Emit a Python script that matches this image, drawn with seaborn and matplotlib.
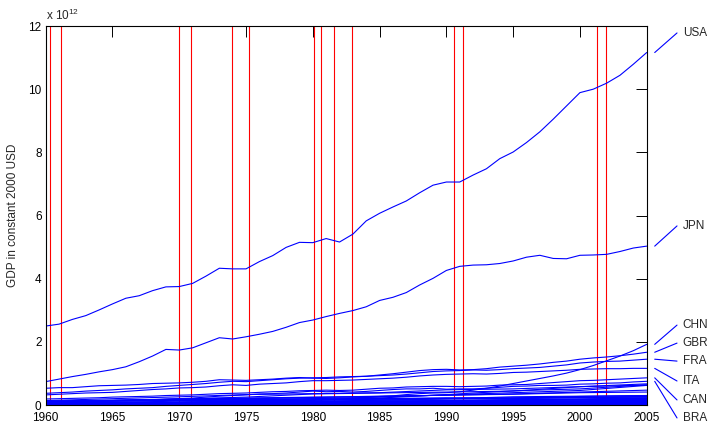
import matplotlib
matplotlib.use("Agg")
import matplotlib.pyplot as plt
import pandas as pd
import seaborn as sns

# ---------------- data (GDP, trillions of constant 2000 USD) ----------------
years = list(range(1960, 2006))
years5 = list(range(1960, 2006, 5))

usa = [2.50, 2.56, 2.71, 2.83, 3.01, 3.20, 3.38, 3.46, 3.62, 3.74,
       3.75, 3.85, 4.08, 4.33, 4.31, 4.31, 4.54, 4.73, 4.99, 5.15,
       5.14, 5.27, 5.16, 5.41, 5.83, 6.07, 6.27, 6.46, 6.72, 6.96,
       7.06, 7.06, 7.28, 7.48, 7.80, 8.01, 8.31, 8.65, 9.05, 9.47,
       9.89, 10.00, 10.19, 10.44, 10.79, 11.16]
jpn = [0.74, 0.82, 0.90, 0.97, 1.05, 1.12, 1.21, 1.37, 1.55, 1.76,
       1.74, 1.81, 1.97, 2.13, 2.09, 2.16, 2.24, 2.33, 2.46, 2.61,
       2.69, 2.80, 2.90, 2.99, 3.11, 3.31, 3.41, 3.56, 3.80, 4.01,
       4.26, 4.39, 4.43, 4.44, 4.48, 4.56, 4.68, 4.74, 4.64, 4.63,
       4.74, 4.75, 4.77, 4.86, 4.97, 5.03]
chn = [0.07, 0.05, 0.05, 0.05, 0.06, 0.07, 0.08, 0.07, 0.07, 0.08,
       0.09, 0.10, 0.10, 0.11, 0.11, 0.12, 0.12, 0.13, 0.14, 0.15,
       0.17, 0.17, 0.19, 0.21, 0.24, 0.27, 0.29, 0.33, 0.36, 0.38,
       0.39, 0.42, 0.47, 0.53, 0.60, 0.68, 0.76, 0.84, 0.92, 1.01,
       1.12, 1.25, 1.40, 1.55, 1.72, 1.92]
gbr = [0.53, 0.55, 0.55, 0.58, 0.61, 0.62, 0.63, 0.65, 0.68, 0.69,
       0.70, 0.72, 0.75, 0.80, 0.79, 0.78, 0.80, 0.82, 0.85, 0.87,
       0.85, 0.84, 0.86, 0.89, 0.91, 0.95, 0.99, 1.04, 1.09, 1.12,
       1.13, 1.11, 1.12, 1.15, 1.20, 1.23, 1.26, 1.30, 1.35, 1.39,
       1.45, 1.49, 1.52, 1.56, 1.61, 1.67]
fra = [0.37, 0.39, 0.41, 0.44, 0.46, 0.48, 0.51, 0.53, 0.55, 0.59,
       0.62, 0.65, 0.68, 0.72, 0.75, 0.74, 0.77, 0.80, 0.83, 0.85,
       0.86, 0.87, 0.89, 0.90, 0.91, 0.93, 0.95, 0.98, 1.02, 1.06,
       1.08, 1.09, 1.11, 1.10, 1.12, 1.15, 1.17, 1.19, 1.23, 1.27,
       1.33, 1.36, 1.38, 1.39, 1.42, 1.45]
ita = [0.32, 0.34, 0.36, 0.38, 0.39, 0.40, 0.43, 0.46, 0.49, 0.51,
       0.54, 0.55, 0.57, 0.61, 0.64, 0.62, 0.66, 0.68, 0.70, 0.74,
       0.77, 0.77, 0.78, 0.79, 0.81, 0.83, 0.85, 0.88, 0.92, 0.95,
       0.97, 0.98, 0.99, 0.98, 1.00, 1.03, 1.04, 1.06, 1.08, 1.10,
       1.13, 1.14, 1.15, 1.15, 1.16, 1.16]
can = [0.19, 0.20, 0.21, 0.22, 0.23, 0.25, 0.26, 0.27, 0.28, 0.30,
       0.31, 0.32, 0.34, 0.36, 0.37, 0.38, 0.40, 0.42, 0.43, 0.45,
       0.46, 0.47, 0.46, 0.47, 0.50, 0.53, 0.54, 0.57, 0.58, 0.59,
       0.59, 0.58, 0.59, 0.60, 0.63, 0.64, 0.65, 0.68, 0.71, 0.74,
       0.77, 0.78, 0.80, 0.82, 0.84, 0.86]
bra = [0.10, 0.11, 0.12, 0.12, 0.13, 0.13, 0.14, 0.15, 0.16, 0.18,
       0.20, 0.22, 0.25, 0.28, 0.30, 0.32, 0.35, 0.36, 0.38, 0.41,
       0.44, 0.42, 0.43, 0.41, 0.43, 0.46, 0.49, 0.51, 0.51, 0.53,
       0.50, 0.51, 0.51, 0.53, 0.56, 0.59, 0.60, 0.62, 0.62, 0.63,
       0.66, 0.67, 0.69, 0.70, 0.73, 0.75]

# other countries, every five years 1960..2005
mex = [0.10, 0.14, 0.19, 0.25, 0.35, 0.38, 0.41, 0.44, 0.58, 0.63]
esp = [0.14, 0.20, 0.26, 0.33, 0.36, 0.39, 0.48, 0.51, 0.58, 0.67]
kor = [0.03, 0.04, 0.07, 0.10, 0.15, 0.22, 0.33, 0.45, 0.51, 0.64]
ind = [0.10, 0.12, 0.15, 0.17, 0.20, 0.25, 0.32, 0.39, 0.46, 0.62]
aus = [0.12, 0.15, 0.19, 0.21, 0.24, 0.28, 0.31, 0.35, 0.41, 0.47]
nld = [0.12, 0.15, 0.19, 0.22, 0.25, 0.27, 0.31, 0.34, 0.39, 0.41]
arg = [0.12, 0.14, 0.18, 0.20, 0.23, 0.21, 0.20, 0.26, 0.28, 0.30]
tur = [0.05, 0.06, 0.08, 0.11, 0.12, 0.15, 0.20, 0.22, 0.27, 0.30]
swe = [0.09, 0.12, 0.14, 0.15, 0.16, 0.18, 0.20, 0.20, 0.24, 0.27]
bel = [0.07, 0.09, 0.12, 0.13, 0.15, 0.16, 0.19, 0.20, 0.23, 0.25]
che = [0.11, 0.14, 0.17, 0.17, 0.19, 0.20, 0.23, 0.23, 0.25, 0.26]
aut = [0.05, 0.06, 0.08, 0.09, 0.11, 0.12, 0.14, 0.16, 0.19, 0.20]
sau = [0.03, 0.05, 0.08, 0.14, 0.20, 0.13, 0.14, 0.16, 0.19, 0.23]
idn = [0.02, 0.02, 0.03, 0.05, 0.07, 0.09, 0.12, 0.17, 0.17, 0.21]
nor = [0.04, 0.05, 0.06, 0.08, 0.10, 0.12, 0.13, 0.15, 0.17, 0.18]
dnk = [0.05, 0.07, 0.08, 0.09, 0.10, 0.11, 0.12, 0.14, 0.16, 0.17]
hkg = [0.01, 0.02, 0.02, 0.03, 0.05, 0.07, 0.10, 0.13, 0.17, 0.20]
zaf = [0.04, 0.05, 0.07, 0.08, 0.10, 0.10, 0.11, 0.12, 0.13, 0.15]
grc = [0.02, 0.03, 0.05, 0.06, 0.08, 0.08, 0.09, 0.10, 0.11, 0.14]
fin = [0.03, 0.04, 0.05, 0.06, 0.07, 0.08, 0.10, 0.10, 0.12, 0.14]
tha = [0.01, 0.01, 0.02, 0.03, 0.04, 0.05, 0.08, 0.12, 0.12, 0.15]
irn = [0.02, 0.03, 0.05, 0.08, 0.06, 0.07, 0.07, 0.09, 0.10, 0.13]
prt = [0.02, 0.03, 0.04, 0.05, 0.06, 0.07, 0.09, 0.10, 0.11, 0.12]
isr = [0.01, 0.02, 0.03, 0.04, 0.05, 0.06, 0.07, 0.10, 0.12, 0.13]
ven = [0.03, 0.04, 0.05, 0.07, 0.08, 0.07, 0.08, 0.10, 0.12, 0.13]
col = [0.02, 0.02, 0.03, 0.04, 0.05, 0.06, 0.07, 0.09, 0.08, 0.10]
chl = [0.01, 0.02, 0.02, 0.02, 0.03, 0.03, 0.04, 0.06, 0.08, 0.09]
phl = [0.02, 0.02, 0.03, 0.04, 0.05, 0.05, 0.06, 0.06, 0.08, 0.09]
egy = [0.01, 0.02, 0.02, 0.03, 0.04, 0.05, 0.06, 0.07, 0.10, 0.11]
pak = [0.01, 0.01, 0.02, 0.02, 0.03, 0.04, 0.05, 0.06, 0.07, 0.09]
nzl = [0.02, 0.02, 0.03, 0.03, 0.03, 0.04, 0.04, 0.05, 0.05, 0.06]
mys = [0.01, 0.01, 0.01, 0.02, 0.03, 0.04, 0.05, 0.07, 0.09, 0.11]
sgp = [0.004, 0.01, 0.01, 0.02, 0.03, 0.04, 0.05, 0.07, 0.09, 0.11]
irl = [0.01, 0.01, 0.02, 0.02, 0.03, 0.03, 0.04, 0.05, 0.09, 0.12]
nga = [0.02, 0.02, 0.03, 0.04, 0.04, 0.03, 0.04, 0.04, 0.05, 0.06]
per = [0.01, 0.02, 0.02, 0.03, 0.03, 0.03, 0.03, 0.04, 0.05, 0.06]
dza = [0.01, 0.01, 0.02, 0.03, 0.04, 0.05, 0.05, 0.05, 0.05, 0.07]
mar = [0.01, 0.01, 0.01, 0.01, 0.02, 0.02, 0.03, 0.03, 0.04, 0.04]
bgd = [0.01, 0.02, 0.02, 0.02, 0.02, 0.03, 0.03, 0.04, 0.05, 0.06]
ury = [0.01, 0.01, 0.01, 0.01, 0.02, 0.01, 0.02, 0.02, 0.02, 0.02]
ecu = [0.004, 0.005, 0.006, 0.009, 0.012, 0.012, 0.013, 0.015, 0.016, 0.019]
lux = [0.004, 0.005, 0.006, 0.007, 0.008, 0.009, 0.012, 0.014, 0.020, 0.023]
tun = [0.003, 0.004, 0.005, 0.007, 0.009, 0.010, 0.012, 0.014, 0.019, 0.023]
ken = [0.003, 0.003, 0.005, 0.006, 0.008, 0.009, 0.011, 0.012, 0.013, 0.015]
gtm = [0.004, 0.005, 0.007, 0.009, 0.012, 0.011, 0.012, 0.015, 0.019, 0.021]
lka = [0.003, 0.004, 0.005, 0.006, 0.008, 0.010, 0.011, 0.014, 0.016, 0.020]
cri = [0.002, 0.003, 0.004, 0.006, 0.007, 0.007, 0.009, 0.011, 0.016, 0.019]
syr = [0.003, 0.003, 0.005, 0.007, 0.011, 0.012, 0.011, 0.016, 0.019, 0.023]

labeled_names = ["USA", "JPN", "CHN", "GBR", "FRA", "ITA", "CAN", "BRA"]
labeled_values = [usa, jpn, chn, gbr, fra, ita, can, bra]
other_names = ["MEX", "ESP", "KOR", "IND", "AUS", "NLD", "ARG", "TUR", "SWE",
               "BEL", "CHE", "AUT", "SAU", "IDN", "NOR", "DNK", "HKG", "ZAF",
               "GRC", "FIN", "THA", "IRN", "PRT", "ISR", "VEN", "COL", "CHL",
               "PHL", "EGY", "PAK", "NZL", "MYS", "SGP", "IRL", "NGA", "PER",
               "DZA", "MAR", "BGD", "URY", "ECU", "LUX", "TUN", "KEN", "GTM",
               "LKA", "CRI", "SYR"]
other_values = [mex, esp, kor, ind, aus, nld, arg, tur, swe, bel, che, aut,
                sau, idn, nor, dnk, hkg, zaf, grc, fin, tha, irn, prt, isr,
                ven, col, chl, phl, egy, pak, nzl, mys, sgp, irl, nga, per,
                dza, mar, bgd, ury, ecu, lux, tun, ken, gtm, lka, cri, syr]

# recession periods (start, end) as decimal years
rec_start = [1960 + 4/12, 1970 + 0/12, 1973 + 11/12, 1980 + 1/12,
             1981 + 7/12, 1990 + 7/12, 2001 + 3/12]
rec_end = [1961 + 2/12, 1970 + 11/12, 1975 + 3/12, 1980 + 7/12,
           1982 + 11/12, 1991 + 3/12, 2001 + 11/12]

# label text positions on the right (layout only)
label_pos = [11.78, 5.67, 2.53, 1.96, 1.39, 0.76, 0.16, -0.41]

# ---------------- build table ----------------
frames = []
for name, vals in zip(labeled_names, labeled_values):
    frames.append(pd.DataFrame({"country": name, "year": years, "gdp": vals}))
for name, vals in zip(other_names, other_values):
    frames.append(pd.DataFrame({"country": name, "year": years5, "gdp": vals}))
df = pd.concat(frames, ignore_index=True)

# ---------------- style ----------------
sns.set_style("white")
plt.rcParams["font.family"] = ["Liberation Sans", "DejaVu Sans"]
plt.rcParams["mathtext.default"] = "regular"

fig = plt.figure(figsize=(7.11, 4.23), dpi=100)
ax = fig.add_axes([45.7 / 711, 1 - 405 / 423, (646.7 - 45.7) / 711, (405 - 26) / 423])

for s, e in zip(rec_start, rec_end):
    ax.axvline(s, color="red", lw=0.8, zorder=1)
    ax.axvline(e, color="red", lw=0.8, zorder=1)

sns.lineplot(data=df, x="year", y="gdp", units="country", estimator=None,
             color=(0, 0, 1), lw=0.8, ax=ax, legend=False, zorder=2)

ax.set_xlim(1960, 2005)
ax.set_ylim(0, 12)
ax.set_xticks(list(range(1960, 2006, 5)))
ax.set_yticks(list(range(0, 13, 2)))
ax.set_xlabel("")
ax.set_ylabel("GDP in constant 2000 USD", fontsize=8.5, labelpad=7)

ax.tick_params(direction="in", length=8, width=0.7, top=True, right=True,
               labelsize=8.5, colors="black")
ax.tick_params(axis="x", pad=5)
ax.tick_params(axis="y", pad=3)
for sp in ax.spines.values():
    sp.set_visible(True)
    sp.set_color("black")
    sp.set_linewidth(0.8)

ax.text(0.0, 1.016, "x 10$^{12}$", transform=ax.transAxes, fontsize=8.5,
        ha="left", va="baseline")

# right-hand labels with leader lines
for name, vals, ly in zip(labeled_names, labeled_values, label_pos):
    ax.plot([2005.6, 2007.27], [vals[-1], ly], color=(0, 0, 1), lw=0.8,
            clip_on=False)
    ax.text(2007.7, ly, name, fontsize=8.5, ha="left", va="center",
            clip_on=False)

fig.savefig("out.png", dpi=100)
